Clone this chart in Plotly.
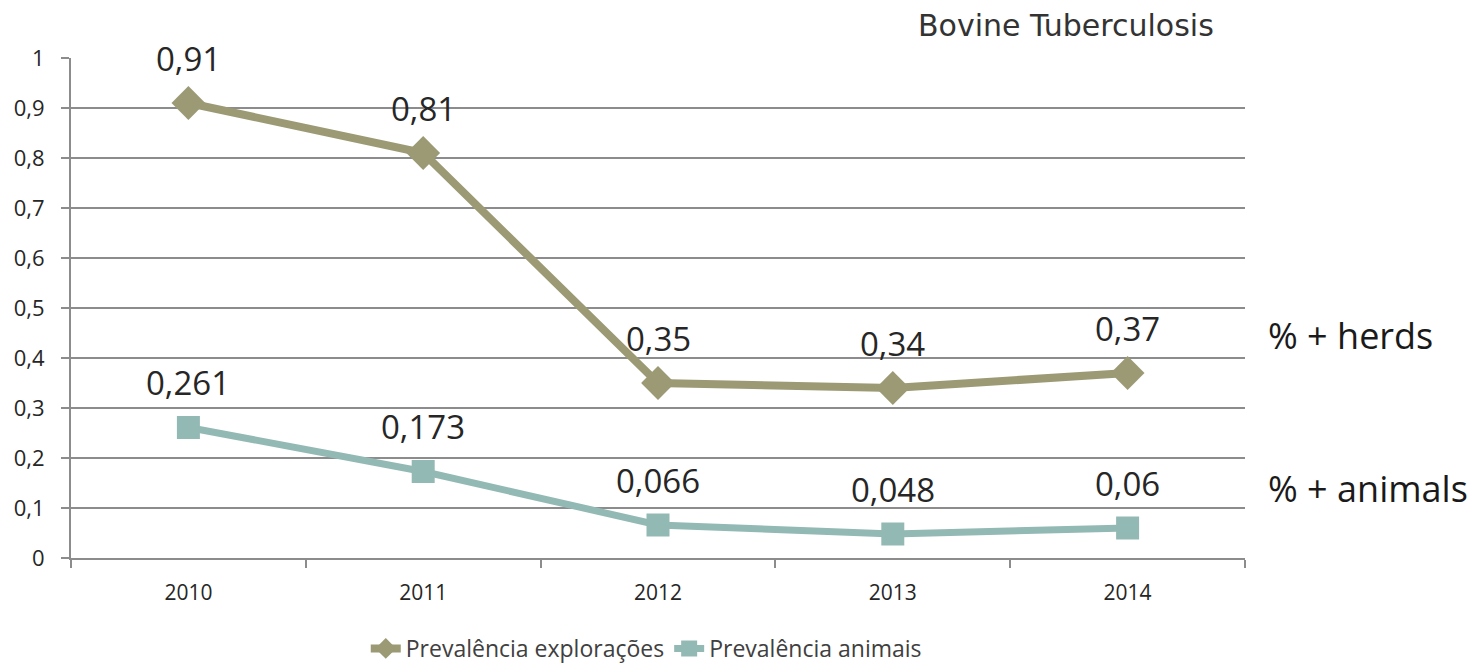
import plotly.graph_objects as go

years = ["2010", "2011", "2012", "2013", "2014"]
herds = [0.91, 0.81, 0.35, 0.34, 0.37]
animals = [0.261, 0.173, 0.066, 0.048, 0.06]
herd_labels = ["0,91", "0,81", "0,35", "0,34", "0,37"]
animal_labels = ["0,261", "0,173", "0,066", "0,048", "0,06"]
ytick_vals = [0, 0.1, 0.2, 0.3, 0.4, 0.5, 0.6, 0.7, 0.8, 0.9, 1]
ytick_text = ["0", "0,1", "0,2", "0,3", "0,4", "0,5", "0,6", "0,7", "0,8", "0,9", "1"]

c_herds = "#9c9a74"
c_animals = "#93b9b5"
font_main = "Open Sans, Liberation Sans, sans-serif"

fig = go.Figure()
fig.add_trace(go.Scatter(
    x=years, y=herds, mode="lines+markers", name="Prevalência explorações",
    line=dict(color=c_herds, width=8),
    marker=dict(symbol="diamond", size=26, color=c_herds),
))
fig.add_trace(go.Scatter(
    x=years, y=animals, mode="lines+markers", name="Prevalência animais",
    line=dict(color=c_animals, width=7),
    marker=dict(symbol="square", size=23, color=c_animals),
))

for ys, labs in [(herds, herd_labels), (animals, animal_labels)]:
    for i, (y, t) in enumerate(zip(ys, labs)):
        fig.add_annotation(x=i, y=y, xref="x", yref="y", text=t, showarrow=False,
                           yshift=45, xanchor="center", yanchor="middle",
                           font=dict(size=33, color="#262626", family=font_main))

fig.add_annotation(xref="paper", yref="y", x=1.018, y=0.446, xanchor="left", yanchor="middle",
                   text="% + herds", showarrow=False,
                   font=dict(size=36, color="#1a1a1a", family=font_main))
fig.add_annotation(xref="paper", yref="y", x=1.018, y=0.14, xanchor="left", yanchor="middle",
                   text="% + animals", showarrow=False,
                   font=dict(size=36, color="#1a1a1a", family=font_main))
fig.add_annotation(xref="paper", yref="paper", x=0.975, y=1.0, yshift=33, xanchor="right", yanchor="middle",
                   text="Bovine Tuberculosis", showarrow=False,
                   font=dict(size=30, color="#333333", family="DejaVu Sans, sans-serif"))

fig.update_layout(
    width=1471, height=655,
    margin=dict(l=63, r=234, t=50, b=105, autoexpand=False),
    plot_bgcolor="white", paper_bgcolor="white",
    showlegend=True,
    legend=dict(orientation="h", x=0.49, xanchor="center", y=-0.138, yanchor="top",
                font=dict(size=23, color="#404040", family=font_main),
                tracegroupgap=0),
    font=dict(family=font_main, color="#404040"),
)
fig.update_xaxes(
    type="category", range=[-0.5, 4.5],
    tickson="boundaries", ticks="outside", ticklen=8, tickcolor="#8c8c8c", tickwidth=2,
    showline=True, linecolor="#8c8c8c", linewidth=2,
    showgrid=False, tickfont=dict(size=21, color="#262626"),
    ticklabelstandoff=15, zeroline=False,
)
fig.update_yaxes(
    range=[0, 1], tickvals=ytick_vals, ticktext=ytick_text,
    ticks="outside", ticklen=8, tickcolor="#8c8c8c", tickwidth=2,
    showline=True, linecolor="#8c8c8c", linewidth=2,
    showgrid=True, gridcolor="#8c8c8c", gridwidth=2,
    tickfont=dict(size=22, color="#262626"), ticklabelstandoff=12, zeroline=False,
)

fig.write_html("out.html")
